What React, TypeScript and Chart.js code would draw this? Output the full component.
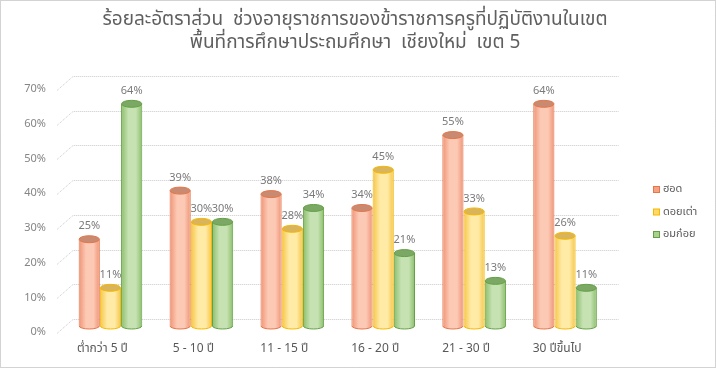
import React, { useEffect, useRef } from "react";
import { Chart, registerables } from "chart.js";

Chart.register(...registerables);

const categories = ["ต่ำกว่า 5 ปี", "5 - 10 ปี", "11 - 15 ปี", "16 - 20 ปี", "21 - 30 ปี", "30 ปีขึ้นไป"];
const seriesNames = ["ฮอด", "ดอยเต่า", "อมก๋อย"];
const hotValues = [25, 39, 38, 34, 55, 64];
const doiTaoValues = [11, 30, 28, 45, 33, 26];
const omkoiValues = [64, 30, 34, 21, 13, 11];
const yTicks = [0, 10, 20, 30, 40, 50, 60, 70];
const titleLines = [
  "ร้อยละอัตราส่วน  ช่วงอายุราชการของข้าราชการครูที่ปฏิบัติงานในเขต",
  "พื้นที่การศึกษาประถมศึกษา  เชียงใหม่  เขต 5",
];

const FONT = 'Tahoma, "Noto Sans Thai", "Noto Sans", "DejaVu Sans", sans-serif';
const CAT_PCT = 0.7;

const palette = [
  { border: "#e4764a", edge: "#ef9274", light: "#fcc9b4", cap: "#c98a72", legend: "#f4a184" },
  { border: "#f5b800", edge: "#f5c546", light: "#ffeaa6", cap: "#d9b45a", legend: "#ffd966" },
  { border: "#64a043", edge: "#8abd6b", light: "#c6e2b2", cap: "#7ca866", legend: "#a9d18e" },
];

function barGradient(c: any) {
  const pal = palette[c.datasetIndex ?? 0];
  const chart = c.chart;
  const xs = chart.scales && chart.scales.x;
  if (c.type !== "data" || !xs || !chart.chartArea) return pal.legend;
  const cw = xs.getPixelForValue(1) - xs.getPixelForValue(0);
  const w = (cw * CAT_PCT) / 3;
  const cx = xs.getPixelForValue(c.dataIndex) + (c.datasetIndex - 1) * w;
  const g = chart.ctx.createLinearGradient(cx - w / 2, 0, cx + w / 2, 0);
  g.addColorStop(0, pal.edge);
  g.addColorStop(0.35, pal.light);
  g.addColorStop(0.7, pal.light);
  g.addColorStop(1, pal.edge);
  return g;
}

const decor = {
  id: "decor",
  beforeDatasetsDraw(chart: any) {
    const ctx = chart.ctx;
    const ys = chart.scales.y;
    const { left, right } = chart.chartArea;
    ctx.save();
    ctx.strokeStyle = "#c9c9c9";
    ctx.lineWidth = 1;
    ctx.setLineDash([1, 1]);
    yTicks.forEach((v) => {
      const y = Math.round(ys.getPixelForValue(v)) + 0.5;
      ctx.beginPath();
      ctx.moveTo(left - 8, y + 7);
      ctx.lineTo(left + 8, y - 7);
      ctx.lineTo(right + 8, y - 7);
      ctx.stroke();
    });
    ctx.setLineDash([]);
    ctx.fillStyle = "#858585";
    ctx.font = "11px " + FONT;
    ctx.textAlign = "right";
    ctx.textBaseline = "middle";
    yTicks.forEach((v) => {
      const y = ys.getPixelForValue(v);
      ctx.fillText(v + "%", 46, y + 7);
    });
    chart.data.datasets.forEach((ds: any, di: number) => {
      const meta = chart.getDatasetMeta(di);
      meta.data.forEach((el: any) => {
        const w = el.width;
        ctx.beginPath();
        ctx.ellipse(el.x, el.base, w / 2 - 0.5, 3, 0, 0, Math.PI);
        ctx.fillStyle = el.options.backgroundColor;
        ctx.fill();
        ctx.strokeStyle = palette[di].border;
        ctx.stroke();
      });
    });
    ctx.restore();
  },
  afterDatasetsDraw(chart: any) {
    const ctx = chart.ctx;
    ctx.save();
    chart.data.datasets.forEach((ds: any, di: number) => {
      const meta = chart.getDatasetMeta(di);
      meta.data.forEach((el: any) => {
        const w = el.width;
        ctx.beginPath();
        ctx.ellipse(el.x, el.y, w / 2 - 0.5, 3.5, 0, 0, Math.PI * 2);
        ctx.fillStyle = palette[di].cap;
        ctx.fill();
        ctx.strokeStyle = palette[di].border;
        ctx.lineWidth = 1;
        ctx.stroke();
      });
    });
    ctx.fillStyle = "#7a7a7a";
    ctx.font = "11px " + FONT;
    ctx.textAlign = "center";
    ctx.textBaseline = "middle";
    chart.data.datasets.forEach((ds: any, di: number) => {
      const meta = chart.getDatasetMeta(di);
      meta.data.forEach((el: any, i: number) => {
        ctx.fillText(ds.data[i] + "%", el.x, el.y - 12);
      });
    });
    ctx.restore();
  },
  afterDraw(chart: any) {
    const ctx = chart.ctx;
    const xs = chart.scales.x;
    const { bottom } = chart.chartArea;
    ctx.save();
    ctx.fillStyle = "#595959";
    ctx.font = "12px " + FONT;
    ctx.textAlign = "center";
    ctx.textBaseline = "middle";
    categories.forEach((c, i) => {
      ctx.fillText(c, xs.getPixelForValue(i) - 8, bottom + 24);
    });
    ctx.font = "19px " + FONT;
    ctx.fillStyle = "#5f5f5f";
    ctx.fillText(titleLines[0], 355, 21);
    ctx.fillText(titleLines[1], 355, 44);
    ctx.font = "11px " + FONT;
    ctx.textAlign = "left";
    seriesNames.forEach((n, i) => {
      const y = 190 + i * 22.5;
      ctx.fillStyle = palette[i].legend;
      ctx.fillRect(653.5, y - 3.5, 6, 6);
      ctx.strokeStyle = palette[i].border;
      ctx.lineWidth = 1;
      ctx.strokeRect(653.5, y - 3.5, 6, 6);
      ctx.fillStyle = "#595959";
      ctx.fillText(n, 663, y);
    });
    ctx.strokeStyle = "#a6a6a6";
    ctx.setLineDash([1, 1]);
    ctx.strokeRect(0.5, 0.5, chart.width - 1, chart.height - 1);
    ctx.restore();
  },
};

export default function App() {
  const ref = useRef<HTMLCanvasElement | null>(null);
  useEffect(() => {
    if (!ref.current) return;
    const chart = new Chart(ref.current, {
      type: "bar",
      data: {
        labels: categories,
        datasets: [hotValues, doiTaoValues, omkoiValues].map((vals, i) => ({
          label: seriesNames[i],
          data: vals,
          backgroundColor: barGradient,
          borderColor: palette[i].border,
          borderWidth: { left: 1, right: 1, top: 0, bottom: 0 },
          barPercentage: 1,
          categoryPercentage: CAT_PCT,
        })),
      },
      options: {
        responsive: false,
        animation: false,
        layout: { padding: { left: 65, right: 105.5, top: 83, bottom: 42 } },
        plugins: {
          legend: { display: false },
          title: { display: false },
          tooltip: { enabled: false },
        },
        scales: {
          x: { display: false, offset: true },
          y: { display: false, min: 0, max: 70 },
        },
      },
      plugins: [decor],
    });
    return () => chart.destroy();
  }, []);
  return (
    <div style={{ position: "fixed", left: 0, top: 0, width: 716, height: 368, background: "#fff" }}>
      <canvas ref={ref} width={716} height={368} style={{ display: "block" }} />
    </div>
  );
}
